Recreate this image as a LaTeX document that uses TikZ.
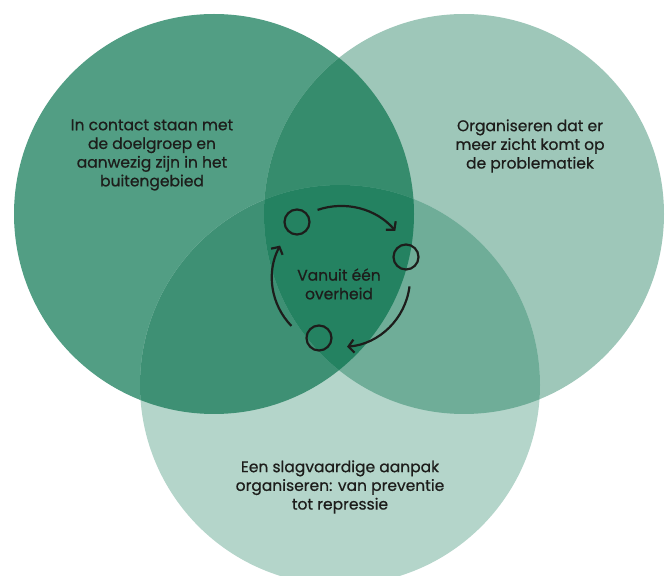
\documentclass[tikz,border=0pt]{standalone}
\usepackage{fontspec}
\setmainfont{Poppins}
\usetikzlibrary{arrows.meta}
\definecolor{INK}{HTML}{1D1D1B}
\definecolor{LEFTG}{HTML}{529E84}
\definecolor{RIGHTG}{HTML}{9EC7B9}
\definecolor{BOTG}{HTML}{B4D5CA}
\definecolor{LRG}{HTML}{368C6D}
\definecolor{LBG}{HTML}{3E9074}
\definecolor{RBG}{HTML}{6FAD98}
\definecolor{MIDG}{HTML}{248261}

\begin{document}
\begin{tikzpicture}[x=1pt, y=1pt,
    txt/.style={align=center, text=INK, font=\fontsize{15.5}{18.7}\selectfont\addfontfeature{FakeBold=0.6}},
    dot/.style={circle, draw=INK, line width=2.2pt, minimum size=25pt, inner sep=0pt},
    turn/.style={draw=INK, line width=2.2pt, -{Straight Barb[length=5.5pt, width=13pt]}}]
    \useasboundingbox (0,0) rectangle (670,576);
    \clip (0,0) rectangle (670,576);
    %
    \coordinate (L) at (214,362);
    \coordinate (R) at (464,362);
    \coordinate (B) at (340,191);
    \fill[LEFTG] (L) circle (200pt);
    \fill[RIGHTG] (R) circle (200pt);
    \fill[BOTG] (B) circle (200pt);
    \begin{scope}
        \clip (L) circle (200pt);
        \fill[LRG] (R) circle (200pt);
        \fill[LBG] (B) circle (200pt);
    \end{scope}
    \begin{scope}
        \clip (R) circle (200pt);
        \fill[RBG] (B) circle (200pt);
    \end{scope}
    \begin{scope}
        \clip (L) circle (200pt);
        \clip (R) circle (200pt);
        \fill[MIDG] (B) circle (200pt);
    \end{scope}
    %
    \node[txt] (contact) at (152,421) {In contact staan met\\de doelgroep en\\aanwezig zijn in het\\buitengebied};
    \node[txt] (zicht) at (530,430) {Organiseren dat er\\meer zicht komt op\\de problematiek};
    \node[txt] (aanpak) at (340,89) {Een slagvaardige aanpak\\organiseren: van preventie\\tot repressie};
    \node[txt] (core) at (339,292) {Vanuit één\\overheid};
    %
    \coordinate (hub) at (341,298);
    \node[dot] (c1) at (297,354) {};
    \node[dot] (c2) at (406,319) {};
    \node[dot] (c3) at (319,238) {};
    \draw[turn] ([shift={(109:72pt)}]hub) arc[start angle=109, end angle=41, radius=72pt];
    \draw[turn] ([shift={(-7:69pt)}]hub) arc[start angle=-7, end angle=-85, radius=69pt];
    \draw[turn] ([shift={(224:69pt)}]hub) arc[start angle=224, end angle=152, radius=69pt];
\end{tikzpicture}
\end{document}
